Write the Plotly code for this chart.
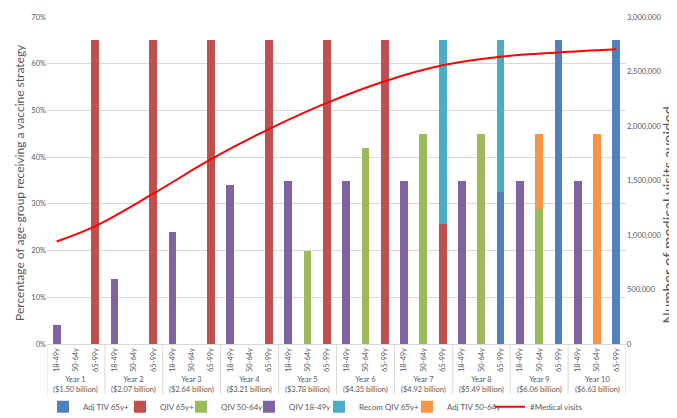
import plotly.graph_objects as go

years = ["Year 1", "Year 2", "Year 3", "Year 4", "Year 5",
         "Year 6", "Year 7", "Year 8", "Year 9", "Year 10"]
costs = ["($1.50 billion)", "($2.07 billion)", "($2.64 billion)", "($3.21 billion)",
         "($3.78 billion)", "($4.35 billion)", "($4.92 billion)", "($5.49 billion)",
         "($6.06 billion)", "($6.63 billion)"]
ages = ["18-49y", "50-64y", "65-99y"]

# values (fraction of age-group) keyed by year index, for one age category each
adj_tiv_65 = {7: 0.326, 8: 0.65, 9: 0.65}                                    # 65-99y
qiv_65 = {0: 0.65, 1: 0.65, 2: 0.65, 3: 0.65, 4: 0.65, 5: 0.65, 6: 0.257}     # 65-99y
qiv_50_64 = {4: 0.20, 5: 0.42, 6: 0.45, 7: 0.45, 8: 0.288}                   # 50-64y
qiv_18_49 = [0.04, 0.14, 0.24, 0.34, 0.35, 0.35, 0.35, 0.35, 0.35, 0.35]      # 18-49y
recom_qiv_65 = {6: 0.393, 7: 0.324}                                          # 65-99y
adj_tiv_50_64 = {8: 0.162, 9: 0.45}                                          # 50-64y

# medical visits avoided, read at selected categories (year index, age index)
visit_year_idx = [0, 0, 1, 2, 3, 4, 5, 6, 7, 8, 9]
visit_age_idx = [0, 2, 2, 2, 2, 2, 2, 2, 2, 2, 2]
visits = [940000, 1081000, 1379000, 1695000, 1972000, 2212000, 2411000,
          2557000, 2636000, 2674000, 2703000]

n_age = len(ages)
cat_pos = list(range(len(years) * n_age))
cat_labels = [a for y in years for a in ages]


def series(d, age):
    ai = ages.index(age)
    xs, ys = [], []
    for yi, v in d.items():
        xs.append(yi * n_age + ai)
        ys.append(v)
    return xs, ys


font_family = "Lato, Liberation Sans, sans-serif"
grey = "#595959"
gridc = "#d9d9d9"

traces = [
    ("Adj TIV 65y+", adj_tiv_65, "65-99y", "#4f81bd"),
    ("QIV 65y+", qiv_65, "65-99y", "#c0504d"),
    ("QIV 50-64y", qiv_50_64, "50-64y", "#9bbb59"),
    ("QIV 18-49y", dict(enumerate(qiv_18_49)), "18-49y", "#8064a2"),
    ("Recom QIV 65y+", recom_qiv_65, "65-99y", "#4bacc6"),
    ("Adj TIV 50-64y", adj_tiv_50_64, "50-64y", "#f79646"),
]
legend_text_px = [82, 159, 220, 288, 358, 446, 529]
plot_l, plot_r, plot_t, plot_b = 39, 618, 4.5, 346.5
pw = plot_r - plot_l
ph = plot_b - plot_t

fig = go.Figure()
for i, (name, d, age, col) in enumerate(traces):
    xs, ys = series(d, age)
    fig.add_trace(go.Bar(x=xs, y=ys, name=name, marker_color=col, marker_line_width=0,
                         legend="legend" if i == 0 else f"legend{i+1}"))

fig.add_trace(go.Scatter(
    x=[yi * n_age + ai for yi, ai in zip(visit_year_idx, visit_age_idx)],
    y=visits, name="#Medical visits", mode="lines", yaxis="y2", legend="legend7",
    line=dict(color="#ff0000", width=2, shape="spline", smoothing=1.0)))

legend_y = -(412 - plot_b) / ph
legends = {}
for i, tx in enumerate(legend_text_px):
    key = "legend" if i == 0 else f"legend{i+1}"
    legends[key] = dict(orientation="h", x=(tx - 47 - plot_l) / pw, xanchor="left",
                        y=legend_y, yanchor="middle", font=dict(size=8, color=grey,
                        family=font_family), itemwidth=30, bgcolor="rgba(0,0,0,0)",
                        borderwidth=0)

shapes = []
for k in range(len(years) + 1):
    shapes.append(dict(type="line", xref="x", yref="paper", x0=k * n_age - 0.5,
                       x1=k * n_age - 0.5, y0=0, y1=-(399 - plot_b) / ph,
                       line=dict(color=gridc, width=1)))

annotations = []
for k in range(len(years)):
    annotations.append(dict(xref="x", yref="paper", x=k * n_age + 1, y=-(388.5 - plot_b) / ph,
                            text=f"{years[k]}<br>{costs[k]}", showarrow=False,
                            font=dict(size=7.5, color=grey, family=font_family),
                            xanchor="center", yanchor="middle"))
annotations.append(dict(xref="paper", yref="paper", x=-(plot_l - 12) / pw,
                        y=(plot_b - 178) / ph, text="Percentage of age-group receiving a vaccine strategy",
                        textangle=-90, showarrow=False, xanchor="center", yanchor="middle",
                        font=dict(size=12, color=grey, family=font_family)))
annotations.append(dict(xref="paper", yref="paper", x=(660 - plot_l) / pw,
                        y=(plot_b - 212) / ph, text="Number of medical visits avoided",
                        textangle=-90, showarrow=False, xanchor="center", yanchor="middle",
                        font=dict(size=15, color=grey, family=font_family)))

fig.update_layout(
    width=677, height=418,
    margin=dict(l=plot_l, r=677 - plot_r, t=plot_t, b=418 - plot_b),
    barmode="stack", bargap=0.6,
    plot_bgcolor="white", paper_bgcolor="white",
    font=dict(family=font_family, color=grey, size=8),
    showlegend=True,
    shapes=shapes, annotations=annotations,
    xaxis=dict(range=[-0.5, len(cat_pos) - 0.5], tickmode="array", tickvals=cat_pos,
               ticktext=cat_labels, tickangle=-90, tickfont=dict(size=7.5, color=grey),
               showgrid=False, zeroline=False, showline=True, linecolor=gridc,
               linewidth=1, ticks=""),
    yaxis=dict(range=[0, 0.7], dtick=0.1, tickformat=".0%", showgrid=True,
               gridcolor=gridc, gridwidth=1, zeroline=False,
               tickfont=dict(size=7.5, color=grey)),
    yaxis2=dict(range=[0, 3000000], dtick=500000, tickformat=",", overlaying="y",
                side="right", showgrid=False, zeroline=False,
                tickfont=dict(size=7.5, color=grey)),
    **legends,
)

fig.write_html("out.html")
